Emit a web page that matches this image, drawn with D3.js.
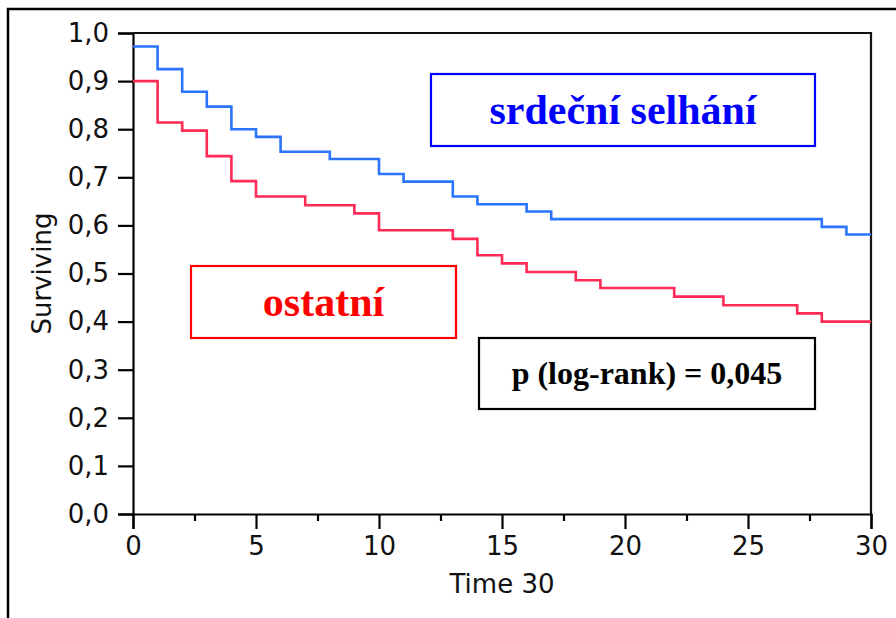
<!DOCTYPE html>
<html>
<head>
<meta charset="utf-8">
<script src="https://cdn.jsdelivr.net/npm/d3@7"></script>
<style>
  html, body { margin: 0; padding: 0; background: #fff; }
  svg { display: block; }
</style>
</head>
<body>
<svg id="chart" width="896" height="618"></svg>
<script>
// Kaplan–Meier survival, two groups
const heartTimes    = [0, 1, 2, 3, 4, 5, 6, 8, 10, 11, 13, 14, 16, 17, 28, 29, 30];
const heartSurvival = [0.972, 0.925, 0.878, 0.847, 0.800, 0.784, 0.753, 0.738, 0.707, 0.691, 0.660, 0.644, 0.629, 0.613, 0.597, 0.581, 0.581];

const otherTimes    = [0, 1, 2, 3, 4, 5, 7, 9, 10, 13, 14, 15, 16, 18, 19, 22, 24, 27, 28, 30];
const otherSurvival = [0.900, 0.814, 0.797, 0.744, 0.692, 0.660, 0.642, 0.625, 0.590, 0.572, 0.538, 0.521, 0.503, 0.486, 0.470, 0.452, 0.434, 0.417, 0.400, 0.400];

const xTicks = [0, 5, 10, 15, 20, 25, 30];
const xMinorTicks = [2.5, 7.5, 12.5, 17.5, 22.5, 27.5];
const yTicks = [0, 0.1, 0.2, 0.3, 0.4, 0.5, 0.6, 0.7, 0.8, 0.9, 1.0];

const heartLabel = "srdeční selhání";
const otherLabel = "ostatní";
const pLabel = "p (log-rank) = 0,045";
const xTitle = "Time 30";
const yTitle = "Surviving";

const svg = d3.select("#chart");
const plot = { left: 133, top: 33, right: 871, bottom: 514 };

const x = d3.scaleLinear().domain([0, 30]).range([plot.left, plot.right]);
const y = d3.scaleLinear().domain([0, 1]).range([plot.bottom, plot.top]);

// outer frame (runs off the right and bottom edges)
svg.append("rect")
  .attr("x", 8).attr("y", 9).attr("width", 1000).attr("height", 1000)
  .attr("fill", "none").attr("stroke", "#000").attr("stroke-width", 2.5);

// plot box top and right edges
svg.append("path")
  .attr("d", `M${plot.left},${plot.top}H${plot.right}V${plot.bottom}`)
  .attr("fill", "none").attr("stroke", "#111").attr("stroke-width", 2.2);

const tickFont = "'DejaVu Sans', sans-serif";
const tickSize = 26;

// y axis
const yAxis = svg.append("g")
  .attr("transform", `translate(${plot.left},0)`)
  .call(d3.axisLeft(y).tickValues(yTicks).tickSize(15).tickPadding(9)
    .tickFormat(d => d3.format(".1f")(d).replace(".", ",")));
yAxis.select(".domain").attr("stroke", "#000").attr("stroke-width", 2.2);
yAxis.selectAll(".tick line").attr("stroke", "#000").attr("stroke-width", 2.2);
yAxis.selectAll(".tick text")
  .attr("font-family", tickFont).attr("font-size", tickSize).attr("fill", "#111");

// x axis
const xAxis = svg.append("g")
  .attr("transform", `translate(0,${plot.bottom})`)
  .call(d3.axisBottom(x).tickValues(xTicks).tickSize(15).tickPadding(8)
    .tickFormat(d3.format("d")));
xAxis.select(".domain").attr("stroke", "#000").attr("stroke-width", 2.2);
xAxis.selectAll(".tick line").attr("stroke", "#000").attr("stroke-width", 2.2);
xAxis.selectAll(".tick text")
  .attr("font-family", tickFont).attr("font-size", tickSize).attr("fill", "#111");

const xMinor = svg.append("g")
  .attr("transform", `translate(0,${plot.bottom})`)
  .call(d3.axisBottom(x).tickValues(xMinorTicks).tickSize(7).tickFormat(""));
xMinor.select(".domain").remove();
xMinor.selectAll(".tick line").attr("stroke", "#000").attr("stroke-width", 2.2);

// axis titles
svg.append("text")
  .attr("x", x(15)).attr("y", 593)
  .attr("text-anchor", "middle")
  .attr("font-family", tickFont).attr("font-size", tickSize).attr("fill", "#111")
  .text(xTitle);

svg.append("text")
  .attr("transform", `translate(51,${y(0.5)}) rotate(-90)`)
  .attr("text-anchor", "middle")
  .attr("font-family", tickFont).attr("font-size", tickSize).attr("fill", "#111")
  .text(yTitle);

// survival step curves
const stepLine = d3.line()
  .x(d => x(d[0]))
  .y(d => y(d[1]))
  .curve(d3.curveStepAfter);

svg.append("path")
  .datum(d3.zip(otherTimes, otherSurvival))
  .attr("d", stepLine)
  .attr("fill", "none").attr("stroke", "#ff2a55").attr("stroke-width", 2.6);

svg.append("path")
  .datum(d3.zip(heartTimes, heartSurvival))
  .attr("d", stepLine)
  .attr("fill", "none").attr("stroke", "#2a74ff").attr("stroke-width", 2.6);

// label boxes
const serif = "'Liberation Serif', 'Times New Roman', serif";
function labelBox(x0, y0, x1, y1, color, text, size, baseline) {
  svg.append("rect")
    .attr("x", x0).attr("y", y0).attr("width", x1 - x0).attr("height", y1 - y0)
    .attr("fill", "#fff").attr("stroke", color).attr("stroke-width", 2.2);
  svg.append("text")
    .attr("x", (x0 + x1) / 2).attr("y", baseline)
    .attr("text-anchor", "middle")
    .attr("font-family", serif).attr("font-weight", "bold")
    .attr("font-size", size).attr("fill", color)
    .text(text);
}

labelBox(431, 74, 815, 146, "#0000ff", heartLabel, 42, 124);
labelBox(191, 266, 456, 338, "#ff0000", otherLabel, 42, 316);
labelBox(479, 338, 815, 409, "#000000", pLabel, 32, 384);
</script>
</body>
</html>
